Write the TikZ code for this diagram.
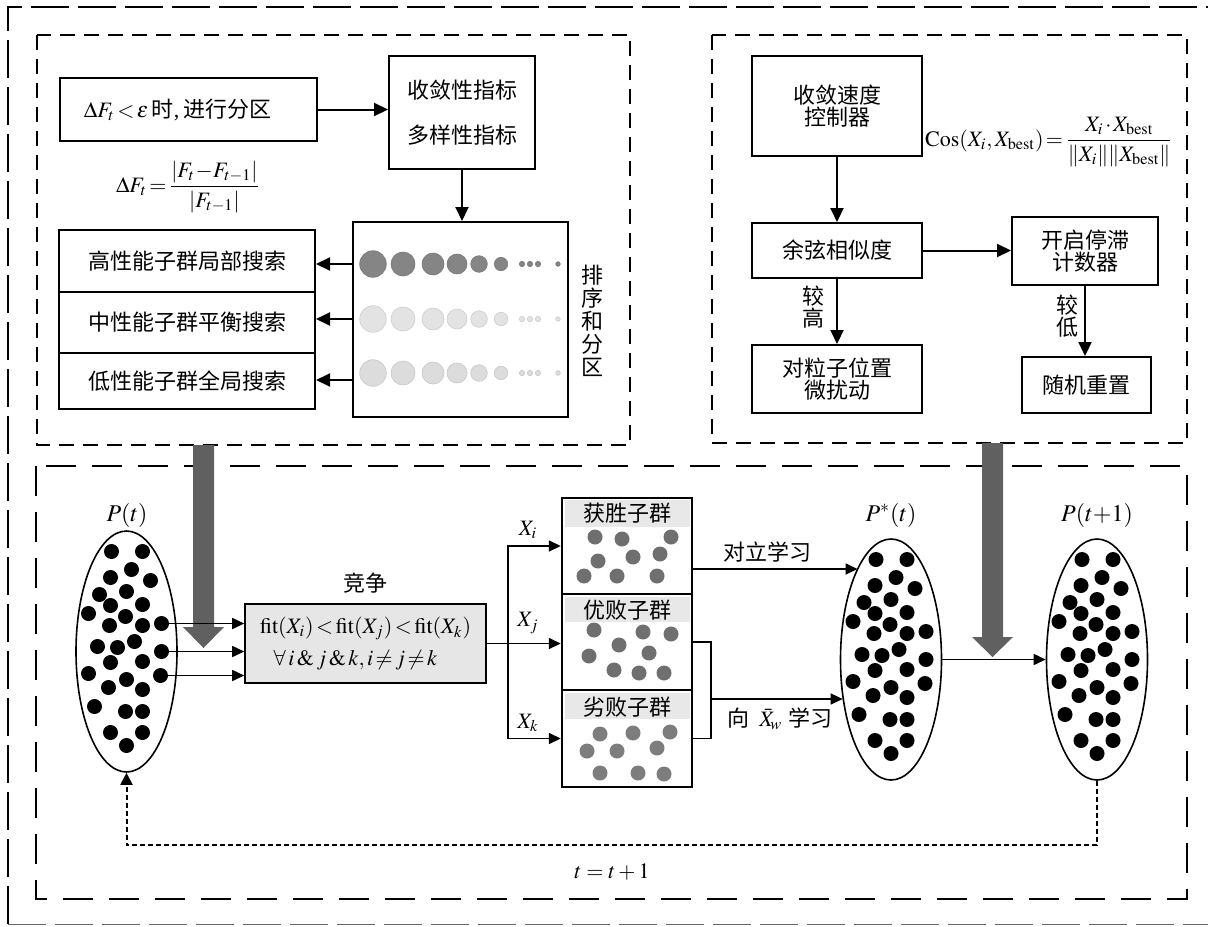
\documentclass[tikz,border=0pt]{standalone}
\usepackage{mathptmx}
\usepackage{fontspec}
\setmainfont{Liberation Serif}
\newfontfamily\cjk{Noto Sans CJK SC}
\usetikzlibrary{arrows.meta,shapes.geometric,calc}
\definecolor{garrowc}{HTML}{606060}
\definecolor{dotdark}{HTML}{6F6F6F}
\definecolor{dotmid}{HTML}{7D7D7D}
\definecolor{rowa}{HTML}{858585}
\definecolor{rowb}{HTML}{E3E3E3}
\definecolor{rowc}{HTML}{DCDCDC}
\definecolor{hdrc}{HTML}{E8E8E8}
\definecolor{compc}{HTML}{E6E6E6}
\newcommand\popdots[1]{\foreach \dx/\dy in {-15/-100,16/-100,5/-82,-16/-74,24/-71,-27/-57,0/-60,-16/-46,16/-47,-38/-38,-1/-35,-17/-26,16/-26,35/-28,-29/-5,-9/-4,8/-10,-16/11,16/10,35/0,-38/22,0/28,-18/36,16/38,34/24,-32/55,-1/60,16/60,-16/81,16/81,0/94}{\fill ($(#1)+(\dx,\dy)$) circle[radius=3.75pt];}}
\begin{document}
\begin{tikzpicture}[x=0.5pt,y=-0.5pt,
  every node/.style={font=\fontsize{11}{13}\selectfont, inner sep=0pt},
  box/.style={draw, line width=1pt, inner sep=0pt, align=center},
  zh/.style={font=\cjk\fontsize{11}{11}\selectfont},
  arr/.style={line width=1pt, -{Triangle[length=7pt,width=6.5pt]}},
  arrs/.style={line width=0.8pt, -{Triangle[length=6pt,width=5.5pt]}},
  panel/.style={line width=0.65pt, dash pattern=on 7.5pt off 4.5pt},
  bpanel/.style={line width=0.7pt, dash pattern=on 15pt off 8pt},
  pop/.style={ellipse, draw, line width=0.8pt, minimum width=50.5pt, minimum height=120.5pt, inner sep=0pt},
  garrow/.style={fill=garrowc},
  dotarr/.style={line width=1pt, dash pattern=on 2.5pt off 1.5pt, -{Triangle[length=6pt,width=6pt]}},
]
\useasboundingbox (0,0) rectangle (1208,926);
\begin{scope}
\clip (0,0) rectangle (1208,926);
\draw[line width=0.7pt, dash pattern=on 19pt off 4.5pt] (8,924) -- (8,7) -- (1240,7);
\draw[line width=0.7pt, dash pattern=on 19pt off 4.5pt, black!60] (8,924.5) -- (1240,924.5);
\end{scope}
% panels
\draw[panel] (37,35) rectangle (630,445);
\draw[panel] (712,35) rectangle (1187,443);
\draw[bpanel] (36,466) rectangle (1187,899);
% big gray arrows
\coordinate (g1) at (203.5,445);
\coordinate (g2) at (992.5,443);
\fill[garrow] (g1) ++(-10.5,0) -- ++(21,0) -- ++(0,182) -- ++(10,0) -- ++(-20.5,21) -- ++(-20.5,-21) -- ++(10,0) -- cycle;
\fill[garrow] (g2) ++(-10.5,0) -- ++(21,0) -- ++(0,194) -- ++(10,0) -- ++(-20.5,20) -- ++(-20.5,-20) -- ++(10,0) -- cycle;
% ---------- top left ----------
\node[box, minimum width=128.5pt, minimum height=31.5pt] (A) at (188.5,109.5) {$\Delta F_t\!<\!\varepsilon$\,{\cjk 时},\,{\cjk 进行分区}\hspace*{11pt}};
\node[box, font=\cjk\fontsize{11}{22.5}\selectfont, minimum width=73pt, minimum height=56.5pt] (B) at (462,112.5) {收敛性指标\\多样性指标};
\node (fA) at (188,187) {$\displaystyle \Delta F_t\!=\!\frac{|F_t\!-\!F_{t-1}|}{|F_{t-1}|}$};
\node[box, minimum width=107.5pt, minimum height=97.5pt] (S) at (460.5,319.5) {};
\foreach \cx/\r in {373/13.3,403/12,433/11,457/10,479/8.3,501/6.7,522/2.7,530/2.7,538/2.7,558/2.3}{
  \filldraw[fill=rowa, draw=rowa!90!black, line width=0.3pt] (\cx,264) circle[radius=\r*0.5pt];
  \filldraw[fill=rowb, draw=rowb!90!black, line width=0.3pt] (\cx,319) circle[radius=\r*0.5pt];
  \filldraw[fill=rowc, draw=rowc!90!black, line width=0.3pt] (\cx,373) circle[radius=\r*0.5pt];
}
\node[font=\cjk\fontsize{11}{11.5}\selectfont, align=center] (sortlbl) at (592,321) {排\\序\\和\\分\\区};
\node[box, zh, minimum width=128pt, minimum height=31pt] (H1) at (187,261) {高性能子群局部搜索};
\node[box, zh, minimum width=128pt, minimum height=30.5pt] (H2) at (187,322.5) {中性能子群平衡搜索};
\node[box, zh, minimum width=128pt, minimum height=28pt] (H3) at (187,381) {低性能子群全局搜索};
\coordinate (r1) at (0,264);
\coordinate (r2) at (0,319);
\coordinate (r3) at (0,380);
\draw[arr] (A.east) -- (A.east -| B.west);
\draw[arr] (B.south) -- (B.south |- S.north);
\draw[arr] (S.west |- r1) -- (H1.east |- r1);
\draw[arr] (S.west |- r2) -- (H2.east |- r2);
\draw[arr] (S.west |- r3) -- (H3.east |- r3);
% ---------- top right ----------
\node[box, zh, minimum width=85pt, minimum height=50pt] (C) at (837,106) {收敛速度\\控制器};
\node[box, zh, minimum width=85pt, minimum height=27.5pt] (D) at (837,250.5) {余弦相似度};
\node[box, zh, minimum width=73pt, minimum height=34pt] (E) at (1085,251) {开启停滞\\计数器};
\node[box, zh, minimum width=85pt, minimum height=34pt] (F) at (837,379) {对粒子位置\\微扰动};
\node[box, zh, minimum width=64.5pt, minimum height=28pt] (G) at (1086.5,385) {随机重置};
\node[font=\fontsize{11}{13}\selectfont] (fC) at (1049,142) {\thickmuskip=2mu\medmuskip=1.5mu$\displaystyle \mathrm{Cos}(X_i,X_{\mathrm{best}})=\frac{X_i\cdot X_{\mathrm{best}}}{\|X_i\|\|X_{\mathrm{best}}\|}$};
\draw[arr] (C.south) -- (D.north);
\draw[arr] (D.east) -- (D.east -| E.west);
\draw[arr] (D.south) -- (F.north);
\draw[arr] (E.south) -- (E.south |- G.north);
\node[zh, align=center] (lh) at (813,307.5) {较\\高};
\node[zh, align=center] (ll) at (1067,316) {较\\低};
% ---------- bottom ----------
\node[font=\fontsize{12}{14}\selectfont] (Ptl) at (127,515) {$P(t)$};
\node[pop] (Pt) at (126.5,651.5) {};
\popdots{Pt}
\node[font=\fontsize{12}{14}\selectfont] (Psl) at (891,515) {$P^{*}(t)$};
\node[pop] (Pstar) at (891,659.5) {};
\popdots{Pstar}
\node[font=\fontsize{12}{14}\selectfont] (Pnl) at (1097,515) {$P(t{+}1)$};
\node[pop] (Pn) at (1097,659.5) {};
\popdots{Pn}
\node[box, fill=compc, line width=0.8pt, minimum width=120.5pt, minimum height=39.5pt, font=\fontsize{11}{16}\selectfont] (comp) at (365.5,643.5) {$\mathrm{fit}(X_i)\!<\!\mathrm{fit}(X_j)\!<\!\mathrm{fit}(X_k)$\\$\forall\, i\,\&\,j\,\&\,k, i\!\neq\! j\!\neq\! k$\hspace*{10pt}};
\node[zh] (jz) at (365,583) {竞争};
\coordinate (s1) at (161.5,623.5);
\coordinate (s2) at (161.5,651.5);
\coordinate (s3) at (160.5,675.5);
\draw[arrs] (s1) -- (s1 -| comp.west);
\draw[arrs] (s2) -- (s2 -| comp.west);
\draw[arrs] (s3) -- (s3 -| comp.west);
% sub-swarm boxes
\node[box, line width=1.2pt, minimum width=65pt, minimum height=48pt] (b1) at (627,546) {};
\node[box, line width=1.2pt, minimum width=65pt, minimum height=48pt] (b2) at (627,642) {};
\node[box, line width=1.2pt, minimum width=65pt, minimum height=48.5pt] (b3) at (627,738.5) {};
\fill[hdrc] (565,500) rectangle (690,527);
\fill[hdrc] (565,597) rectangle (690,622);
\fill[hdrc] (565,693) rectangle (690,719);
\node[zh] (h1) at (627,513) {获胜子群};
\node[zh] (h2) at (627,610) {优败子群};
\node[zh] (h3) at (627,707) {劣败子群};
\foreach \p in {(595,537),(622,539),(671,537),(598,561),(633,557),(660,554),(584,576),(617,576),(657,576),(594,630),(643,632),(671,634),(619,645),(649,653),(589,656),(614,670),(639,673),(664,673)}{\fill[dotdark] \p circle[radius=3.75pt];}
\foreach \p in {(600,734),(633,733),(670,732),(587,751),(617,751),(657,748),(600,773),(638,773),(664,774)}{\fill[dotmid] \p circle[radius=3.75pt];}
\coordinate (bus) at (508,643);
\draw[arrs] (comp.east) -- (comp.east -| b2.west);
\draw[line width=0.8pt, {Triangle[length=6pt,width=5.5pt]}-{Triangle[length=6pt,width=5.5pt]}] (b1.west) -| (bus) |- (b3.west);
\node (xi) at (528,530) {$X_i$};
\node (xj) at (528,623) {$X_j$};
\node (xk) at (528,723) {$X_k$};
\coordinate (br) at (711,642);
\draw[line width=0.8pt] (b2.east) -- (br) |- (b3.east);
\coordinate (o1) at (692,569);
\coordinate (o2) at (711,699);
\draw[arrs] (o1) -- (o1 -| Pstar.110);
\draw[arrs] (o2) -- (o2 -| Pstar.220);
\node[zh] (dl) at (767,552) {对立学习};
\node (lw) at (780,719) {{\cjk 向}\;\,$\bar{X}_{\!w}$\;{\cjk 学习}};
\draw[arrs] (Pstar.east) -- (Pn.west);
\coordinate (fb) at (0,845);
\draw[dotarr] (Pn.south) -- (Pn.south |- fb) -| (Pt.south);
\node (tt) at (612,872) {$t=t+1$};
\end{tikzpicture}
\end{document}
